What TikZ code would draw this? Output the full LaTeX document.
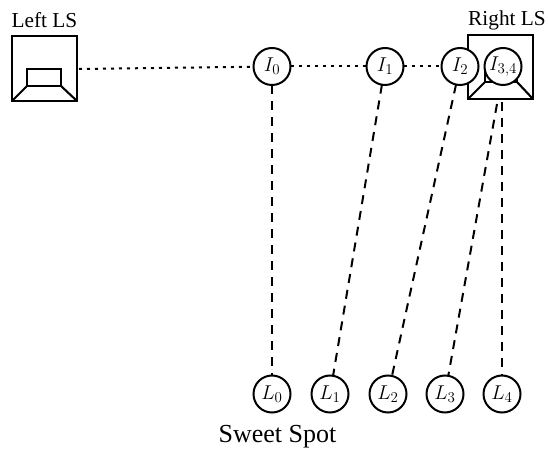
\documentclass[tikz,border=0pt]{standalone}
\usepackage{fix-cm}
\usepackage{fontspec}
\setmainfont{Liberation Serif}
\DeclareMathSizes{20}{20}{15}{11}
\tikzset{
  x=1pt,y=1pt,
  every node/.style={inner sep=0pt,outer sep=0pt},
  hub/.style={circle,draw=black,line width=2pt,fill=white,minimum size=37pt,font=\fontsize{20}{22}\selectfont},
  lab/.style={font=\fontsize{21.3}{24}\selectfont,anchor=base},
  box/.style={draw=black,line width=2.1pt,line join=miter},
  dotline/.style={draw=black,line width=2pt,dash pattern=on 3pt off 5pt},
  dashline/.style={draw=black,line width=2pt,dash pattern=on 9pt off 7pt},
}
\begin{document}
\begin{tikzpicture}
\useasboundingbox (0,0) rectangle (548,449);
% Left speaker
\draw[box] (12,348) rectangle (77,413);
\draw[box] (27,363) rectangle (61,380);
\draw[box] (12,348) -- (27,363) (77,348) -- (61,363);
% Right speaker
\draw[box] (468,350) rectangle (533,414);
\draw[box] (485,367) rectangle (517,380);
\draw[box] (468,350) -- (485,367) (533,350) -- (517,367);
% Connectors and nodes
\coordinate (LS) at (79,380);
\coordinate (I4) at (502,347);
\coordinate (I3) at (497,345);
\node[hub] (I0) at (272,382.5) {$I_0$};
\node[hub] (I1) at (385,382.5) {$I_1$};
\node[hub] (I2) at (460,382.5) {$I_2$};
\node[hub] (I34) at (503,382.5) {$I_{3,4}$};
\node[hub] (L0) at (272,55) {$L_0$};
\node[hub] (L1) at (330,55) {$L_1$};
\node[hub] (L2) at (388,55) {$L_2$};
\node[hub] (L3) at (445,55) {$L_3$};
\node[hub] (L4) at (502,55) {$L_4$};
\draw[dotline] (LS) -- (I0);
\draw[dotline] (I0) -- (I1);
\draw[dotline] (I1) -- (I2);
\draw[dashline] (I0) -- (L0);
\draw[dashline] (I1) -- (L1);
\draw[dashline] (I2) -- (L2);
\draw[dashline] (I3) -- (L3);
\draw[dashline] (I4) -- (L4);
% Labels
\node[lab] (left) at (44.5,421) {Left LS};
\node[lab] (right) at (507,423) {Right LS};
\node[font=\fontsize{26}{28}\selectfont,anchor=base] (spot) at (277.5,6) {Sweet Spot};
\end{tikzpicture}
\end{document}
